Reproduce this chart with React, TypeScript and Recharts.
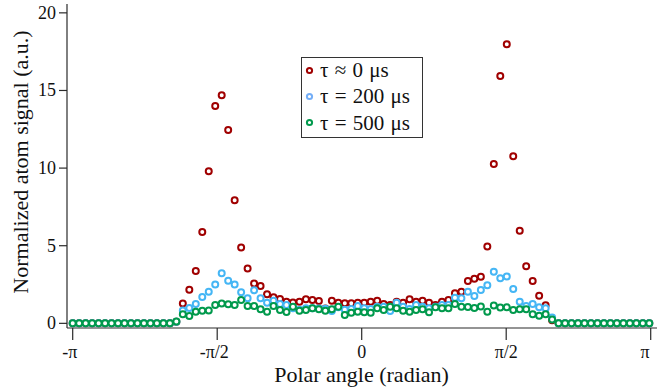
import React from 'react';
import { ScatterChart, Scatter, XAxis, YAxis, Label } from 'recharts';

// Polar angle of each bin, in degrees (90 bins)
const ANGLES_DEG = [
  -180.0, -175.97, -171.93, -167.9, -163.86, -159.83, -155.79, -151.76, -147.72, -143.69,
  -139.65, -135.62, -131.58, -127.55, -123.51, -119.48, -115.44, -111.41, -107.37, -103.34,
  -99.3, -95.27, -91.23, -87.2, -83.16, -79.13, -75.09, -71.06, -67.02, -62.99,
  -58.95, -54.92, -50.88, -46.85, -42.81, -38.78, -34.74, -30.71, -26.67, -22.64,
  -18.6, -14.57, -10.53, -6.5, -2.46, 1.58, 5.61, 9.65, 13.68, 17.72,
  21.75, 25.79, 29.82, 33.86, 37.89, 41.93, 45.96, 50.0, 54.03, 58.07,
  62.1, 66.14, 70.17, 74.21, 78.24, 82.28, 86.31, 90.35, 94.38, 98.42,
  102.45, 106.49, 110.52, 114.56, 118.59, 122.63, 126.66, 130.7, 134.73, 138.77,
  142.8, 146.84, 150.87, 154.91, 158.94, 162.98, 167.01, 171.05, 175.08, 179.12,
];

const SIGNAL_TAU_0 = [
  0, 0, 0, 0, 0, 0, 0, 0, 0, 0,
  0, 0, 0, 0, 0, 0, 0.1, 1.28, 2.16, 3.37,
  5.88, 9.8, 14.0, 14.7, 12.45, 7.93, 4.88, 3.54, 2.56, 2.4,
  1.87, 1.68, 1.57, 1.39, 1.35, 1.39, 1.55, 1.5, 1.44, 0.95,
  1.46, 1.33, 1.29, 1.29, 1.33, 1.33, 1.39, 1.46, 1.24, 1.18,
  1.39, 1.33, 1.55, 1.39, 1.46, 1.33, 1.18, 1.39, 1.5, 1.94,
  2.04, 2.72, 2.88, 3.0, 4.95, 10.26, 15.93, 17.98, 10.77, 5.96,
  3.68, 2.72, 1.78, 1.16, 0.2, 0, 0, 0, 0, 0,
  0, 0, 0, 0, 0, 0, 0, 0, 0, 0,
];

const SIGNAL_TAU_200 = [
  0, 0, 0, 0, 0, 0, 0, 0, 0, 0,
  0, 0, 0, 0, 0, 0, 0.1, 0.83, 0.99, 1.24,
  1.7, 2.04, 2.5, 3.23, 2.74, 2.5, 2.0, 1.61, 2.13, 1.61,
  1.33, 1.46, 1.24, 1.18, 0.97, 0.88, 0.97, 0.98, 0.96, 0.94,
  0.79, 1.03, 0.88, 0.93, 1.11, 0.97, 0.93, 1.07, 1.07, 0.79,
  1.33, 1.07, 0.93, 1.18, 1.07, 0.97, 1.07, 1.18, 1.18, 1.65,
  1.61, 2.04, 1.76, 2.15, 2.46, 3.33, 2.9, 3.02, 2.21, 1.39,
  1.11, 1.24, 1.03, 0.98, 0.38, 0, 0, 0, 0, 0,
  0, 0, 0, 0, 0, 0, 0, 0, 0, 0,
];

const SIGNAL_TAU_500 = [
  0, 0, 0, 0, 0, 0, 0, 0, 0, 0,
  0, 0, 0, 0, 0, 0, 0.12, 0.58, 0.47, 0.75,
  0.81, 0.83, 1.18, 1.28, 1.23, 1.18, 1.5, 1.12, 1.11, 0.91,
  0.75, 1.11, 0.86, 0.73, 1.07, 0.81, 0.86, 0.98, 0.9, 0.81,
  0.9, 1.07, 0.53, 0.68, 0.75, 0.72, 0.68, 0.97, 0.86, 1.07,
  0.97, 0.81, 0.75, 0.86, 0.9, 0.71, 1.03, 0.97, 0.97, 1.24,
  1.07, 1.05, 0.99, 1.08, 0.75, 1.15, 1.02, 1.03, 0.86, 0.9,
  0.9, 0.58, 0.49, 0.58, 0.25, 0, 0, 0, 0, 0,
  0, 0, 0, 0, 0, 0, 0, 0, 0, 0,
];

const X_TICKS = [-180, -90, 0, 90, 180];
const X_TICK_LABELS = ['-π', '-π/2', '0', 'π/2', 'π'];
const Y_TICKS = [0, 5, 10, 15, 20];
const SERIES_NAMES = ['τ ≈ 0 μs', 'τ = 200 μs', 'τ = 500 μs'];
const SERIES_COLORS = ['#a00000', '#45b6f5', '#00994c'];
const LEGEND_COLORS = ['#a00000', '#74aef7', '#00994c'];
const X_TITLE = 'Polar angle (radian)';
const Y_TITLE = 'Normalized atom signal (a.u.)';

const FONT = '"Liberation Serif", "Times New Roman", serif';
const AXIS_COLOR = '#2a2a2a';

const toPoints = (vals: number[]) => ANGLES_DEG.map((a, i) => ({ x: a, y: vals[i] }));
const SERIES = [SIGNAL_TAU_0, SIGNAL_TAU_200, SIGNAL_TAU_500].map(toPoints);

const ringShape = (color: string) => (props: any) => (
  <circle cx={props.cx} cy={props.cy} r={3} fill="#ffffff" stroke={color} strokeWidth={2} />
);

const XTick = (props: any) => {
  const { x, y, payload } = props;
  const idx = X_TICKS.indexOf(payload.value);
  const label = X_TICK_LABELS[idx] ?? String(payload.value);
  const neg = label.startsWith('-');
  return (
    <text x={x} y={y + 18} dx={neg ? -3 : 0} textAnchor="middle" fontFamily={FONT} fontSize={18} fill="#111">
      {label}
    </text>
  );
};

const YTick = (props: any) => {
  const { x, y, payload } = props;
  return (
    <text x={x} y={y + 6} textAnchor="end" fontFamily={FONT} fontSize={18} fill="#111">
      {payload.value}
    </text>
  );
};

export default function App() {
  return (
    <div style={{ position: 'absolute', left: 0, top: 0, width: 657, height: 389, background: '#fff' }}>
      <ScatterChart width={657} height={389} margin={{ top: 4, right: 0, bottom: 0, left: 0 }}>
        <XAxis
          type="number"
          dataKey="x"
          domain={[-183.55, 183.92]}
          allowDataOverflow
          ticks={X_TICKS}
          tick={<XTick />}
          tickSize={12}
          tickMargin={0}
          height={61}
          axisLine={{ stroke: AXIS_COLOR, strokeWidth: 1.2 }}
          tickLine={{ stroke: AXIS_COLOR, strokeWidth: 1.2 }}
        >
          <Label
            content={() => (
              <text x={361.5} y={381.5} textAnchor="middle" fontFamily={FONT} fontSize={22} fill="#111">
                {X_TITLE}
              </text>
            )}
          />
        </XAxis>
        <YAxis
          type="number"
          dataKey="y"
          domain={[-0.3, 20.57]}
          allowDataOverflow
          ticks={Y_TICKS}
          tick={<YTick />}
          tickSize={8}
          tickMargin={3}
          width={67}
          axisLine={{ stroke: AXIS_COLOR, strokeWidth: 1.2 }}
          tickLine={{ stroke: AXIS_COLOR, strokeWidth: 1.2 }}
        >
          <Label
            content={() => (
              <text
                x={28}
                y={162}
                transform="rotate(-90 28 162)"
                textAnchor="middle"
                fontFamily={FONT}
                fontSize={22}
                fill="#111"
              >
                {Y_TITLE}
              </text>
            )}
          />
        </YAxis>
        {SERIES.map((data, i) => (
          <Scatter
            key={SERIES_NAMES[i]}
            name={SERIES_NAMES[i]}
            data={data}
            isAnimationActive={false}
            shape={ringShape(SERIES_COLORS[i])}
          />
        ))}
      </ScatterChart>
      <div
        style={{
          position: 'absolute',
          left: 301,
          top: 57,
          width: 122,
          height: 81,
          boxSizing: 'border-box',
          border: '1px solid #333',
          background: '#fff',
        }}
      >
        <svg width={120} height={79} style={{ display: 'block' }}>
          {SERIES_NAMES.map((name, i) => (
            <g key={name}>
              <circle cx={7.5} cy={12.5 + i * 26} r={2.6} fill="#fff" stroke={LEGEND_COLORS[i]} strokeWidth={2} />
              <text x={18} y={18.5 + i * 26.5} fontFamily={FONT} fontSize={21} fill="#111" style={{ wordSpacing: 1 }}>
                {name}
              </text>
            </g>
          ))}
        </svg>
      </div>
    </div>
  );
}
